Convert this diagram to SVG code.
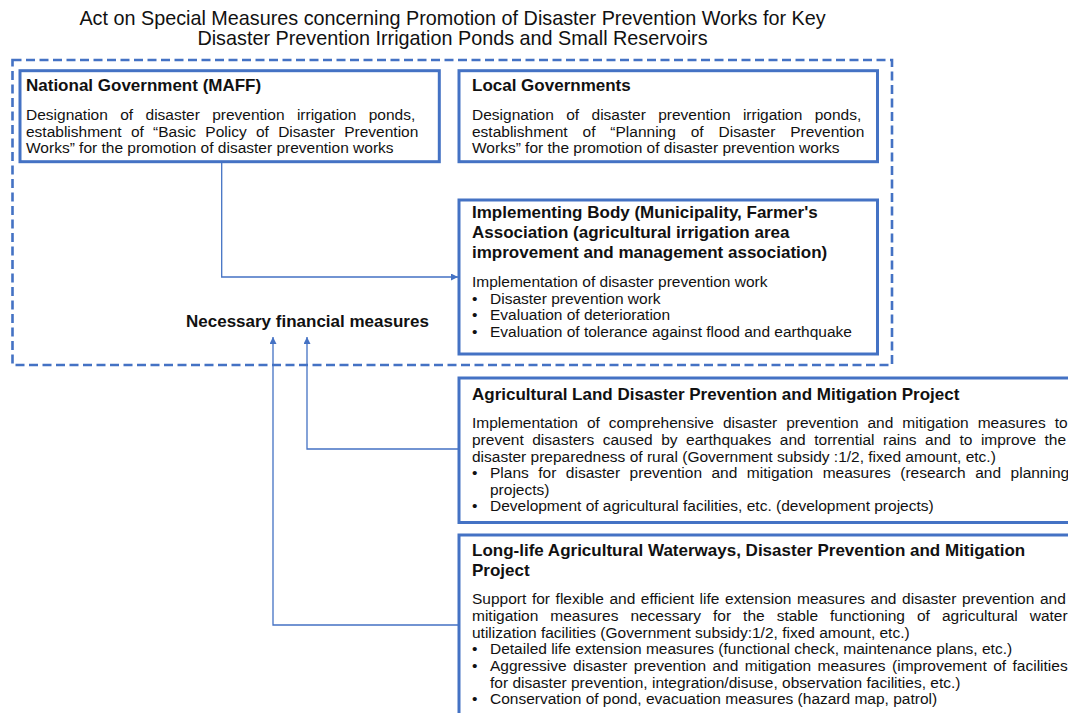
<svg xmlns="http://www.w3.org/2000/svg" width="1068" height="713" viewBox="0 0 1068 713">
<defs>
<style>
text{font-family:"Liberation Sans",Arial,sans-serif;fill:#111}
.t{font-size:19.8px}
.h{font-size:17px;font-weight:bold}
.b{font-size:15.5px}
.box{fill:#fff;stroke:#4472C4;stroke-width:3}
.dash{fill:none;stroke:#4472C4;stroke-width:2.6;stroke-dasharray:9 4.5}
.con{fill:none;stroke:#4472C4;stroke-width:1.3}
</style>
<marker id="arr" viewBox="0 0 10 10" refX="10" refY="5" markerWidth="7" markerHeight="7" markerUnits="userSpaceOnUse" orient="auto">
<path d="M0,0 L10,5 L0,10 z" fill="#4472C4"/>
</marker>
</defs>
<rect width="1068" height="713" fill="#fff"/>

<g id="title">
<text class="t" x="452.5" y="25" text-anchor="middle">Act on Special Measures concerning Promotion of Disaster Prevention Works for Key</text>
<text class="t" x="452.5" y="45.3" text-anchor="middle">Disaster Prevention Irrigation Ponds and Small Reservoirs</text>
</g>

<g id="act-scope">
<rect class="dash" x="12.5" y="60" width="879.5" height="305"/>
</g>

<g id="connectors">
<polyline class="con" points="221.7,163 221.7,277 458,277" marker-end="url(#arr)"/>
<polyline class="con" points="459,449 307,449 307,337" marker-end="url(#arr)"/>
<polyline class="con" points="459,625 273,625 273,337" marker-end="url(#arr)"/>
</g>

<g id="national-government">
<rect class="box" x="20" y="70.7" width="419.3" height="91"/>
<text class="h" x="26" y="90.7">National Government (MAFF)</text>
<text class="b" x="26" y="120" word-spacing="8.06">Designation of disaster prevention irrigation ponds,</text>
<text class="b" x="26" y="136.5" word-spacing="4.94">establishment of “Basic Policy of Disaster Prevention</text>
<text class="b" x="26" y="153">Works” for the promotion of disaster prevention works</text>
</g>

<g id="local-governments">
<rect class="box" x="459" y="70.7" width="418.5" height="91"/>
<text class="h" x="472" y="90.7">Local Governments</text>
<text class="b" x="472" y="120" word-spacing="8.06">Designation of disaster prevention irrigation ponds,</text>
<text class="b" x="472" y="136.5" word-spacing="10.58">establishment of “Planning of Disaster Prevention</text>
<text class="b" x="472" y="153">Works” for the promotion of disaster prevention works</text>
</g>

<g id="implementing-body">
<rect class="box" x="459" y="200" width="418.5" height="154"/>
<text class="h" x="472" y="217.5">Implementing Body (Municipality, Farmer's</text>
<text class="h" x="472" y="237.5">Association (agricultural irrigation area</text>
<text class="h" x="472" y="257.5">improvement and management association)</text>
<text class="b" x="472" y="287">Implementation of disaster prevention work</text>
<text class="b" x="472" y="303.5">•</text><text class="b" x="490" y="303.5">Disaster prevention work</text>
<text class="b" x="472" y="320">•</text><text class="b" x="490" y="320">Evaluation of deterioration</text>
<text class="b" x="472" y="336.5">•</text><text class="b" x="490" y="336.5">Evaluation of tolerance against flood and earthquake</text>
</g>

<g id="financial-measures">
<text class="h" x="186" y="327">Necessary financial measures</text>
</g>

<g id="agricultural-land-project">
<rect class="box" x="459" y="378" width="620" height="144.5"/>
<text class="h" x="472" y="399.5">Agricultural Land Disaster Prevention and Mitigation Project</text>
<text class="b" x="472" y="428" word-spacing="4.66">Implementation of comprehensive disaster prevention and mitigation measures to</text>
<text class="b" x="472" y="445" word-spacing="4.19">prevent disasters caused by earthquakes and torrential rains and to improve the</text>
<text class="b" x="472" y="461.5">disaster preparedness of rural (Government subsidy :1/2, fixed amount, etc.)</text>
<text class="b" x="472" y="478">•</text><text class="b" x="490" y="478" word-spacing="5.19">Plans for disaster prevention and mitigation measures (research and planning</text>
<text class="b" x="490" y="494.5">projects)</text>
<text class="b" x="472" y="511">•</text><text class="b" x="490" y="511">Development of agricultural facilities, etc. (development projects)</text>
</g>

<g id="long-life-project">
<rect class="box" x="459" y="535" width="620" height="200"/>
<text class="h" x="472" y="556">Long-life Agricultural Waterways, Disaster Prevention and Mitigation</text>
<text class="h" x="472" y="576">Project</text>
<text class="b" x="472" y="604" word-spacing="1.29">Support for flexible and efficient life extension measures and disaster prevention and</text>
<text class="b" x="472" y="621" word-spacing="7.69">mitigation measures necessary for the stable functioning of agricultural water</text>
<text class="b" x="472" y="637.5">utilization facilities (Government subsidy:1/2, fixed amount, etc.)</text>
<text class="b" x="472" y="654">•</text><text class="b" x="490" y="654">Detailed life extension measures (functional check, maintenance plans, etc.)</text>
<text class="b" x="472" y="671">•</text><text class="b" x="490" y="671" word-spacing="2.1">Aggressive disaster prevention and mitigation measures (improvement of facilities</text>
<text class="b" x="490" y="687.5">for disaster prevention, integration/disuse, observation facilities, etc.)</text>
<text class="b" x="472" y="704">•</text><text class="b" x="490" y="704">Conservation of pond, evacuation measures (hazard map, patrol)</text>
</g>
</svg>
